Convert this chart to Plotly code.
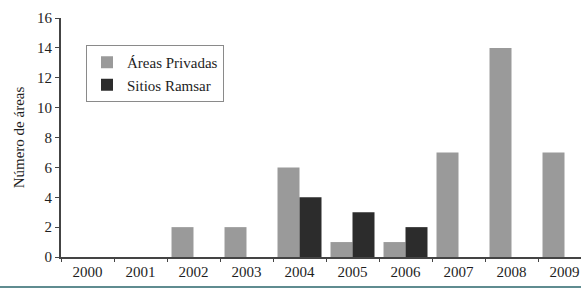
import plotly.graph_objects as go

years = ["2000", "2001", "2002", "2003", "2004", "2005", "2006", "2007", "2008", "2009"]
areas_privadas = [0, 0, 2, 2, 6, 1, 1, 7, 14, 7]
sitios_ramsar = [0, 0, 0, 0, 4, 3, 2, 0, 0, 0]
y_ticks = [0, 2, 4, 6, 8, 10, 12, 14, 16]

W, H = 581, 289
L, T, B = 61, 18, 32
plot_w = W - L
plot_h = H - T - B
cat_px = 53.0
SERIF = "Liberation Serif, Times New Roman, serif"

fig = go.Figure()
fig.add_trace(go.Bar(x=years, y=areas_privadas, name="Áreas Privadas",
                     marker=dict(color="#9a9a9a", line=dict(width=0))))
fig.add_trace(go.Bar(x=years, y=sitios_ramsar, name="Sitios Ramsar",
                     marker=dict(color="#2c2c2c", line=dict(width=0))))

fig.update_layout(
    width=W, height=H,
    margin=dict(l=L, r=0, t=T, b=B, autoexpand=False),
    paper_bgcolor="white", plot_bgcolor="white",
    barmode="group", bargap=0.17, bargroupgap=0,
    font=dict(family=SERIF, size=15, color="#1e1e1e"),
    showlegend=True,
    legend=dict(x=(86 - L) / plot_w, y=(257 - 45) / plot_h, xanchor="left", yanchor="top",
                bordercolor="#8a8a8a", borderwidth=1, bgcolor="white",
                font=dict(family=SERIF, size=15, color="#1e1e1e"),
                itemwidth=30),
    xaxis=dict(type="category", range=[-0.5, -0.5 + plot_w / cat_px], automargin=False,
               showline=True, linecolor="#444444", linewidth=2,
               ticks="outside", ticklen=3, tickcolor="#444444", tickson="boundaries",
               showgrid=False, zeroline=False,
               tickfont=dict(family=SERIF, size=15, color="#1e1e1e")),
    yaxis=dict(range=[0, 16], tickvals=y_ticks, automargin=False,
               showline=True, linecolor="#444444", linewidth=2,
               ticks="outside", ticklen=4, tickcolor="#444444", showgrid=False, zeroline=False,
               title=dict(text="Número de áreas", standoff=9,
                          font=dict(family=SERIF, size=15, color="#1e1e1e")),
               tickfont=dict(family=SERIF, size=15, color="#1e1e1e")),
)

fig.add_shape(type="line", xref="paper", yref="paper",
              x0=-L / plot_w, x1=1, y0=-(287 - 257) / plot_h, y1=-(287 - 257) / plot_h,
              line=dict(color="#5f8c90", width=2))

fig.write_html("out.html", config={"displayModeBar": False},
               post_script="document.body.style.margin='0';document.body.style.padding='0';")
